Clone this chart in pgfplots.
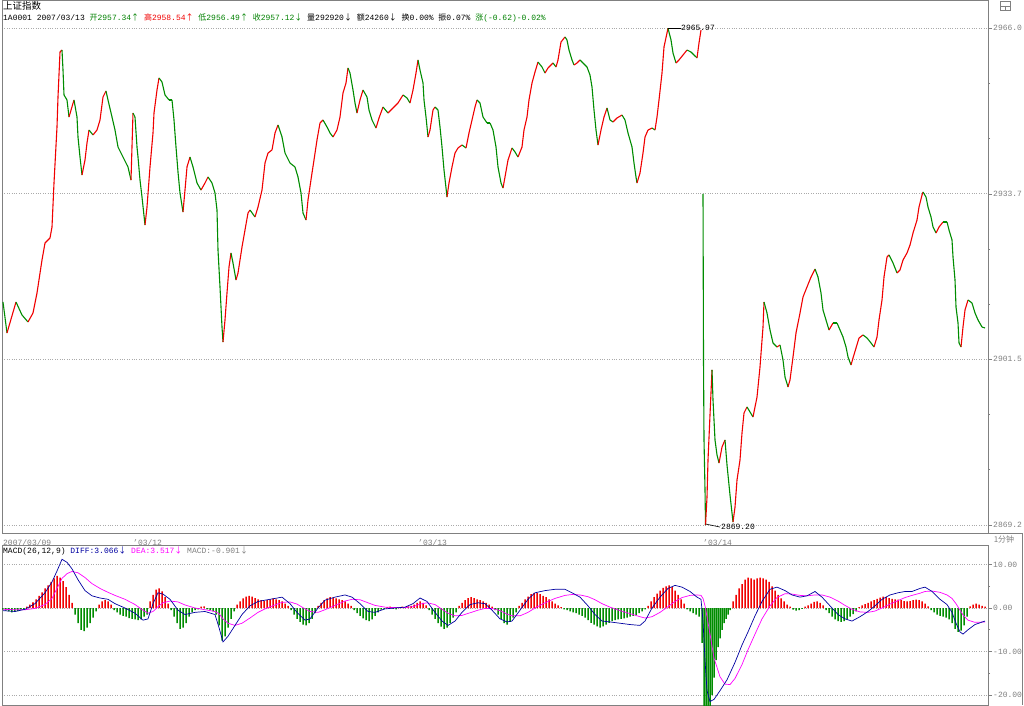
\documentclass[border=0pt]{standalone}
\usepackage{pgfplots}
\pgfplotsset{compat=1.18}
\usepackage{pgfplotstable}
\usepackage{fontspec}
\setmainfont{Liberation Mono}
\newfontfamily\cjk{Noto Sans CJK SC}
\definecolor{upred}{RGB}{240,0,0}
\definecolor{dngreen}{RGB}{0,140,0}
\definecolor{txtgreen}{RGB}{0,128,0}
\definecolor{difcol}{RGB}{0,0,160}
\definecolor{deacol}{RGB}{255,0,255}
\definecolor{frame}{RGB}{128,128,128}
\definecolor{gridc}{RGB}{170,170,170}

\pgfplotstableread{
x p d
3 2912.63 0
7 2906.60 1
16 2912.63 0
22 2910.10 0
28 2908.74 1
33 2910.49 1
37 2914.39 1
42 2920.81 1
45 2924.12 1
50 2925.10 1
52 2927.24 1
54 2935.81 1
57 2946.72 1
58 2952.56 1
60 2961.32 1
62 2961.71 0
63 2957.82 0
64 2952.95 0
67 2951.98 0
69 2948.66 1
74 2951.98 0
77 2948.66 0
78 2944.77 0
80 2940.87 0
82 2937.37 1
85 2940.29 1
87 2943.60 1
89 2946.13 0
93 2945.16 1
97 2946.13 1
100 2948.08 1
103 2952.56 1
106 2953.73 0
108 2951.98 0
112 2948.66 0
115 2946.13 0
118 2942.82 0
123 2940.87 0
128 2938.93 0
131 2936.39 1
133 2949.44 0
135 2948.66 0
137 2942.82 0
138 2940.87 0
140 2936.39 0
142 2933.08 0
145 2927.63 1
147 2931.13 1
150 2938.93 1
153 2945.55 1
154 2949.44 1
157 2953.92 1
159 2956.26 0
162 2955.48 0
165 2952.95 0
169 2951.98 0
172 2951.98 0
174 2948.08 0
176 2942.82 0
178 2937.95 0
180 2933.86 0
183 2930.16 1
185 2934.44 1
187 2938.93 1
190 2940.87 0
193 2938.93 0
197 2935.81 0
201 2934.44 1
205 2935.81 1
208 2936.98 0
212 2935.81 0
215 2933.86 0
217 2930.55 0
218 2922.76 0
220 2915.56 0
222 2907.76 0
223 2904.84 1
225 2909.13 1
227 2914.39 1
229 2919.45 1
231 2922.18 0
233 2920.23 0
236 2916.92 1
238 2918.28 1
242 2923.34 1
245 2926.66 1
248 2929.97 1
250 2930.55 0
255 2929.19 1
258 2931.13 1
262 2934.44 1
265 2939.70 1
268 2941.65 1
272 2942.24 1
275 2945.55 1
278 2947.11 0
282 2944.77 0
285 2941.65 0
290 2939.70 0
295 2938.93 0
298 2936.98 0
301 2933.86 0
303 2929.97 0
306 2928.60 1
308 2932.50 1
312 2937.76 1
314 2940.29 1
317 2944.19 1
320 2947.50 1
323 2948.08 0
327 2946.72 0
330 2945.55 0
333 2944.77 1
337 2946.13 1
340 2948.66 1
343 2953.34 1
346 2955.29 1
348 2958.21 0
350 2957.23 0
353 2953.92 0
355 2951.39 0
357 2949.44 1
360 2951.98 1
363 2953.92 0
367 2952.56 0
369 2950.03 0
372 2948.08 0
376 2946.52 1
379 2948.47 1
383 2950.61 0
388 2949.44 1
393 2950.42 1
398 2951.39 1
403 2952.95 0
407 2952.37 0
410 2951.39 1
413 2953.92 1
416 2957.23 1
418 2959.77 0
420 2957.82 0
423 2955.29 0
424 2951.98 0
426 2948.66 0
428 2944.77 1
430 2946.13 1
433 2950.03 1
435 2950.61 0
438 2950.03 0
440 2946.72 0
442 2942.82 0
444 2938.34 0
447 2933.08 1
449 2935.81 1
452 2938.93 1
455 2941.65 1
458 2942.63 1
462 2943.21 0
466 2942.63 1
469 2945.55 1
472 2948.08 1
475 2950.61 1
477 2951.98 0
480 2951.39 0
483 2948.66 0
487 2947.50 0
490 2947.50 0
493 2946.13 0
496 2942.82 0
498 2938.93 0
501 2935.81 0
503 2934.83 1
505 2936.98 1
508 2940.29 1
512 2942.63 0
515 2941.85 0
518 2940.87 1
522 2942.82 1
524 2946.13 1
527 2948.66 1
529 2951.98 1
532 2955.29 1
535 2957.43 1
538 2959.37 0
542 2958.40 0
545 2957.23 1
548 2958.21 1
553 2959.18 0
556 2958.40 1
558 2959.77 1
561 2963.27 1
565 2964.25 0
567 2963.66 0
569 2961.71 0
572 2959.77 0
574 2958.79 1
577 2959.18 1
580 2959.77 0
583 2959.18 0
587 2958.40 0
590 2956.84 0
592 2954.51 0
594 2950.03 0
596 2946.13 0
598 2943.21 1
601 2946.13 1
604 2948.66 1
607 2950.42 0
610 2948.08 0
613 2947.69 1
617 2948.47 1
622 2949.05 0
625 2948.08 0
628 2945.55 0
632 2942.82 0
634 2939.70 0
636 2936.98 0
637 2935.81 1
640 2937.76 1
643 2941.65 1
645 2944.77 1
648 2946.13 1
652 2946.52 0
655 2946.13 1
657 2948.66 1
659 2951.98 1
662 2957.23 1
664 2962.30 1
667 2965.03 1
668 2965.97 0
671 2963.66 0
673 2961.13 0
676 2959.18 1
679 2959.77 1
683 2960.74 1
687 2961.71 0
691 2961.32 0
694 2960.74 0
697 2960.16 1
699 2963.08 1
701 2965.61 0
}\dayA

\pgfplotstableread{
x p d
703 2933.70 0
703.5 2901.34 0
704 2885.76 0
705 2876.02 0
705.5 2869.20 1
707 2874.65 1
708 2881.86 1
710 2890.63 1
712 2899.40 0
713 2893.55 0
715 2885.76 0
717 2882.83 0
719 2881.27 1
722 2884.39 1
725 2885.76 0
727 2880.88 0
730 2875.04 0
733 2869.78 1
735 2872.70 1
737 2877.96 1
740 2881.86 1
742 2887.12 1
744 2891.02 1
747 2892.19 0
750 2891.21 0
753 2890.24 1
757 2894.13 1
760 2899.98 1
763 2907.76 1
764 2912.63 0
767 2910.49 0
770 2907.18 0
773 2904.65 0
777 2903.87 1
780 2904.26 0
783 2901.34 0
785 2898.03 0
788 2896.09 1
790 2897.45 1
793 2901.92 1
796 2906.60 1
800 2910.49 1
803 2913.61 1
807 2915.56 1
811 2917.50 1
815 2919.06 0
818 2917.50 0
821 2914.39 0
823 2911.07 0
826 2909.13 0
829 2907.18 1
833 2908.54 0
837 2908.54 0
840 2907.18 0
843 2905.82 0
846 2903.87 0
848 2901.92 0
851 2900.37 1
853 2901.73 1
856 2903.68 1
859 2905.62 1
863 2906.21 0
867 2905.62 0
871 2904.65 0
874 2903.87 1
877 2905.82 1
879 2909.13 1
882 2913.02 1
884 2917.50 1
887 2921.40 1
889 2921.79 0
893 2920.23 0
897 2918.28 1
900 2918.87 1
903 2920.81 1
907 2922.18 1
910 2923.73 1
913 2926.07 1
917 2928.60 1
919 2931.13 1
922 2933.47 1
923 2934.05 0
926 2933.08 0
928 2931.13 0
931 2929.19 0
933 2927.24 0
936 2926.07 1
939 2927.24 1
943 2928.21 0
947 2928.21 0
949 2926.66 0
952 2924.71 0
953 2921.40 0
955 2916.92 0
956 2911.66 0
958 2908.54 0
959 2904.65 0
961 2903.87 1
963 2907.76 1
965 2911.07 1
968 2913.02 0
972 2912.44 0
975 2910.49 0
978 2909.13 0
982 2907.76 0
985 2907.57 0
}\dayB

\pgfplotstableread{
x v
3 -0.6
15 -0.8
25 -0.3
35 1.0
45 3.5
52 6.0
57 8.5
62 11.2
67 10.5
72 9.0
78 6.5
85 4.0
92 2.8
100 2.3
108 2.0
115 1.0
125 0.0
135 -1.2
143 -2.8
148 -2.5
153 1.0
158 3.5
163 3.2
170 2.0
178 -0.5
185 -1.5
195 -1.0
205 -0.8
215 -1.5
219 -4.5
223 -7.8
228 -6.5
235 -4.0
242 -1.5
250 0.5
258 1.5
265 1.8
275 2.2
282 2.5
290 1.0
297 -1.0
305 -2.8
310 -2.5
318 0.0
325 1.8
335 2.5
345 3.0
352 2.5
360 1.0
368 -0.8
375 -1.0
385 -0.2
395 0.0
405 0.2
413 1.0
420 2.3
427 1.5
435 -1.0
442 -3.0
448 -4.0
455 -3.0
462 -1.0
470 0.8
478 1.2
485 1.0
492 -0.5
500 -2.5
507 -3.2
512 -3.0
520 -0.5
528 2.0
535 3.5
545 4.0
555 4.3
565 4.3
572 3.5
580 2.5
588 0.5
595 -1.5
602 -3.0
610 -3.2
620 -3.5
630 -3.8
640 -4.0
645 -3.0
652 0.0
660 2.5
668 4.5
675 5.2
682 4.8
690 3.8
697 2.5
701 2.0
703 -3.0
705 -12.0
707 -19.0
710 -21.5
714 -21.0
720 -19.0
727 -16.5
735 -12.5
742 -8.5
748 -5.5
755 -1.8
762 1.5
770 4.3
777 4.8
785 4.0
792 3.0
800 2.5
807 2.8
815 3.8
822 2.5
830 0.5
838 -1.5
845 -2.5
852 -3.0
860 -2.0
868 -0.8
875 0.5
882 2.0
890 3.0
898 3.5
905 3.8
912 3.8
920 4.5
925 4.8
932 3.8
940 2.0
947 0.8
952 -1.0
956 -3.5
960 -5.5
963 -6.0
968 -5.0
975 -3.8
985 -3.0
}\diff

\pgfplotstableread{
x v
3 -0.3
15 -0.4
25 -0.4
35 -0.1
45 0.8
52 2.2
57 4.5
62 6.8
67 7.9
72 8.4
78 8.1
85 7.0
92 5.6
100 4.5
108 3.6
115 2.9
125 2.0
135 0.8
143 -0.5
148 -1.2
153 -0.8
158 0.3
163 1.2
170 1.6
178 1.4
185 0.7
195 0.0
205 -0.4
215 -0.8
219 -1.3
223 -2.5
228 -3.5
235 -4.0
242 -3.5
250 -2.3
258 -1.0
265 -0.2
275 0.7
282 1.3
290 1.4
297 0.9
305 -0.2
310 -0.8
318 -1.0
325 -0.4
335 0.6
345 1.6
352 2.0
360 1.9
368 1.2
375 0.6
385 0.2
395 0.1
405 0.1
413 0.3
420 0.9
427 1.2
435 0.8
442 -0.3
448 -1.2
455 -1.8
462 -1.7
470 -1.1
478 -0.5
485 -0.1
492 -0.1
500 -0.6
507 -1.4
512 -1.8
520 -1.8
528 -1.0
535 0.0
545 1.2
555 2.2
565 2.9
572 3.1
580 3.0
588 2.6
595 1.9
602 1.0
610 0.2
620 -0.6
630 -1.3
640 -2.0
645 -2.3
652 -2.0
660 -1.0
668 0.3
675 1.5
682 2.4
690 2.9
697 3.0
701 2.9
703 2.2
705 0.5
707 -2.0
710 -6.0
714 -11.5
720 -15.8
725 -17.5
730 -17.6
735 -16.2
742 -13.0
748 -9.6
755 -6.0
762 -2.5
770 0.5
777 2.4
785 3.3
792 3.2
800 2.9
807 2.8
815 3.0
822 3.0
830 2.5
838 1.6
845 0.6
852 -0.3
860 -0.9
868 -1.0
875 -0.7
882 0.0
890 0.9
898 1.7
905 2.4
912 2.9
920 3.4
925 3.8
932 3.9
940 3.6
947 3.0
952 2.2
956 1.0
960 -0.5
963 -1.6
968 -2.8
975 -3.3
985 -3.2
}\dea

\pgfplotstableread{
x h
27 0.3
30 0.8
33 1.3
36 2.0
39 2.8
42 3.6
45 4.5
48 5.2
51 6.0
54 6.8
57 7.4
60 7.0
63 6.2
66 4.8
69 3.0
72 1.2
99 0.8
102 1.5
105 1.8
108 1.5
111 0.8
150 1.5
153 3.0
156 4.2
159 4.5
162 3.8
165 2.5
168 1.0
201 0.3
204 0.4
237 0.8
240 1.5
243 2.2
246 2.6
249 2.8
252 2.6
255 2.3
258 2.0
261 1.8
264 1.6
267 1.8
270 2.0
273 2.2
276 2.0
279 1.8
282 1.5
285 1.0
288 0.5
318 0.5
321 1.2
324 1.8
327 2.2
330 2.5
333 2.4
336 2.2
339 2.0
342 1.8
345 1.5
348 1.0
351 0.5
387 0.2
390 0.3
399 0.2
402 0.3
405 0.2
408 0.4
411 0.5
414 0.8
417 1.2
420 1.5
423 1.2
426 0.6
459 0.5
462 1.2
465 1.8
468 2.3
471 2.5
474 2.3
477 2.0
480 1.8
483 1.5
486 1.2
489 0.8
492 0.3
519 0.5
522 1.2
525 2.0
528 2.6
531 3.2
534 3.5
537 3.4
540 3.2
543 2.8
546 2.5
549 2.0
552 1.5
555 1.0
558 0.6
561 0.2
648 0.5
651 1.5
654 2.5
657 3.3
660 4.0
663 4.6
666 5.0
669 5.2
672 4.8
675 4.0
678 3.0
681 2.0
684 1.0
733 1.5
736 3.0
739 4.5
742 5.5
745 6.5
748 7.0
751 6.8
754 6.5
757 6.8
760 7.0
763 6.8
766 6.5
769 6.0
772 5.0
775 4.0
778 3.0
781 2.2
784 1.5
787 0.8
790 0.3
805 0.3
808 0.6
811 1.0
814 1.4
817 1.5
820 1.2
823 0.6
859 0.2
862 0.6
865 0.9
868 1.2
871 1.5
874 1.8
877 2.1
880 2.4
883 2.6
886 2.5
889 2.3
892 2.1
895 2.0
898 1.9
901 1.8
904 1.6
907 1.5
910 1.6
913 1.8
916 1.9
919 1.8
922 1.5
925 1.0
928 0.4
970 0.4
973 0.8
976 1.0
979 0.8
982 0.5
985 0.3
}\histpos

\pgfplotstableread{
x h
3 -0.4
6 -0.6
9 -0.8
12 -1.0
15 -0.9
18 -0.7
21 -0.4
24 -0.2
75 -1.5
78 -3.5
81 -5.0
84 -5.3
87 -4.5
90 -3.5
93 -2.2
96 -0.8
114 -0.5
117 -1.0
120 -1.5
123 -1.8
126 -2.0
129 -2.3
132 -2.5
135 -2.6
138 -2.8
141 -2.6
144 -2.0
147 -1.5
171 -0.5
174 -2.0
177 -3.5
180 -4.8
183 -4.5
186 -3.5
189 -2.0
192 -1.0
195 -0.5
198 -0.3
207 -0.3
210 -0.5
213 -0.8
216 -1.5
219 -4.0
222 -7.5
225 -6.5
228 -4.5
231 -2.5
234 -0.8
291 -0.5
294 -1.5
297 -2.5
300 -3.2
303 -3.8
306 -4.0
309 -3.5
312 -2.5
315 -1.2
354 -0.5
357 -1.2
360 -1.8
363 -2.4
366 -2.8
369 -3.0
372 -2.6
375 -1.8
378 -1.0
381 -0.4
384 -0.2
393 -0.2
396 -0.3
429 -0.5
432 -1.5
435 -2.5
438 -3.5
441 -4.3
444 -4.8
447 -4.5
450 -3.5
453 -2.2
456 -1.0
495 -0.5
498 -1.5
501 -2.5
504 -3.5
507 -3.8
510 -3.2
513 -2.2
516 -1.0
564 -0.3
567 -0.5
570 -0.8
573 -1.0
576 -1.2
579 -1.5
582 -1.8
585 -2.2
588 -2.8
591 -3.4
594 -3.8
597 -4.2
600 -4.5
603 -4.2
606 -3.8
609 -3.4
612 -3.0
615 -2.8
618 -2.6
621 -2.5
624 -2.4
627 -2.2
630 -2.0
633 -1.8
636 -1.6
639 -1.2
642 -0.8
645 -0.3
687 -0.3
690 -0.8
693 -1.2
696 -1.5
699 -2.0
702 -8.0
704 -25.0
706 -25.0
708 -25.0
710 -25.0
712 -20.0
714 -16.0
716 -12.0
718 -9.0
720 -7.0
722 -5.0
724 -3.5
726 -2.5
728 -1.5
730 -0.5
793 -0.4
796 -0.6
799 -0.5
802 -0.2
826 -0.5
829 -1.2
832 -2.0
835 -2.6
838 -3.0
841 -3.2
844 -3.0
847 -2.6
850 -2.0
853 -1.4
856 -0.8
931 -0.5
934 -1.0
937 -1.5
940 -1.8
943 -2.0
946 -2.2
949 -2.6
952 -3.5
955 -4.8
958 -5.5
961 -5.2
964 -4.0
967 -2.0
}\histneg

\begin{document}
\begin{tikzpicture}[x=1pt,y=1pt]
\useasboundingbox (0pt,0pt) rectangle (1024pt,-705pt);
% ---------- main price panel
\begin{axis}[
  at={(2pt,0pt)}, anchor=north west,
  scale only axis, width=986pt, height=533pt,
  xmin=2, xmax=988,
  ymin=2867.64, ymax=2971.45,
  axis line style={frame, line width=0.8pt},
  ytick={2966.0,2933.7,2901.5,2869.2},
  yticklabels={2966.0,2933.7,2901.5,2869.2},
  minor ytick={2955.2,2944.5,2922.9,2912.2,2890.7,2880.0},
  ytick pos=right, yticklabel pos=right,
  tick align=outside,
  major tick length=4pt, minor tick length=2pt,
  tick style={frame, line width=0.6pt},
  yticklabel style={font=\fontsize{8}{9}\selectfont, text=frame, anchor=west, inner sep=0pt, xshift=1pt},
  xtick={3,133,418,703},
  xticklabels={2007/03/09,'03/12,'03/13,'03/14},
  xtick pos=bottom,
  xtick style={draw=none},
  xticklabel style={font=\fontsize{8}{9}\selectfont, text=frame, anchor=north west, inner sep=0pt, yshift=-2pt},
  ymajorgrids, grid style={dotted, gridc, line width=0.7pt},
  clip=false,
]
\addplot[mesh, shader=flat corner, line width=1.1pt, point meta=explicit, point meta min=0, point meta max=1,
  colormap={rg}{color=(dngreen) color=(upred)}] table[x=x, y=p, meta=d] {\dayA};
\addplot[mesh, shader=flat corner, line width=1.1pt, point meta=explicit, point meta min=0, point meta max=1,
  colormap={rg}{color=(dngreen) color=(upred)}] table[x=x, y=p, meta=d] {\dayB};
\draw[black, line width=0.6pt] (axis cs:668,2965.97) -- (axis cs:681,2965.97);
\node[anchor=west, inner sep=0pt, font=\fontsize{8}{9}\selectfont] at (axis cs:681,2965.97) {2965.97};
\draw[black, line width=0.6pt] (axis cs:705.5,2869.4) -- (axis cs:720,2868.8);
\node[anchor=west, inner sep=0pt, font=\fontsize{8}{9}\selectfont] at (axis cs:721,2868.8) {2869.20};
\end{axis}
% ---------- MACD panel
\begin{axis}[
  at={(2pt,-545pt)}, anchor=north west,
  scale only axis, width=986pt, height=160pt,
  xmin=2, xmax=988,
  ymin=-22.3, ymax=14.48,
  axis line style={frame, line width=0.8pt},
  ytick={10,0,-10,-20},
  yticklabels={10.00,0.00,-10.00,-20.00},
  minor ytick={5,-5,-15},
  ytick pos=right, yticklabel pos=right,
  tick align=outside,
  major tick length=4pt, minor tick length=2pt,
  tick style={frame, line width=0.6pt},
  yticklabel style={font=\fontsize{8}{9}\selectfont, text=frame, anchor=west, inner sep=0pt, xshift=1pt},
  xtick=\empty,
  ymajorgrids, grid style={dotted, gridc, line width=0.7pt},
]
\addplot[ybar, bar width=1.5pt, bar shift=0pt, fill=upred, draw=none] table[x=x, y=h] {\histpos};
\addplot[ybar, bar width=1.5pt, bar shift=0pt, fill=dngreen, draw=none] table[x=x, y=h] {\histneg};
\addplot[deacol, line width=0.7pt, mark=none] table[x=x, y=v] {\dea};
\addplot[difcol, line width=0.7pt, mark=none] table[x=x, y=v] {\diff};
\end{axis}
% date strip separators
\draw[frame, line width=0.8pt] (988pt,-533pt) -- (1022pt,-533pt);
\draw[frame, line width=0.8pt] (1022pt,-533pt) -- (1022pt,-705pt);
\node[font=\cjk\fontsize{8}{9}\selectfont, text=frame, inner sep=0pt] at (1004pt,-539pt) {1分钟};
% "day" icon
\draw[frame, line width=0.6pt] (1000pt,-1.5pt) rectangle (1010pt,-10pt);
\draw[frame, line width=0.6pt] (1000pt,-5.8pt) -- (1010pt,-5.8pt);
\draw[frame, line width=0.6pt] (1005pt,-5.8pt) -- (1005pt,-10pt);
% header
\node[anchor=west, inner sep=0pt, font=\cjk\fontsize{9.5}{10}\selectfont] at (3pt,-6pt) {上证指数};
\node[anchor=west, inner sep=0pt, font=\fontsize{8}{9}\selectfont] at (3pt,-18pt) {1A0001 2007/03/13 \textcolor{txtgreen}{{\cjk 开}2957.34{\cjk ↑}} \textcolor{upred}{{\cjk 高}2958.54{\cjk ↑}} \textcolor{txtgreen}{{\cjk 低}2956.49{\cjk ↑}} \textcolor{txtgreen}{{\cjk 收}2957.12{\cjk ↓}} {\cjk 量}292920{\cjk ↓} {\cjk 额}24260{\cjk ↓} {\cjk 换}0.00\% {\cjk 振}0.07\% \textcolor{txtgreen}{{\cjk 涨}(-0.62)-0.02\%}};
\node[anchor=west, inner sep=0pt, font=\fontsize{8}{9}\selectfont] at (3pt,-551pt) {MACD(26,12,9) \textcolor{difcol}{DIFF:3.066{\cjk ↓}} \textcolor{deacol}{DEA:3.517{\cjk ↓}} \textcolor{frame}{MACD:-0.901{\cjk ↓}}};
\end{tikzpicture}
\end{document}
